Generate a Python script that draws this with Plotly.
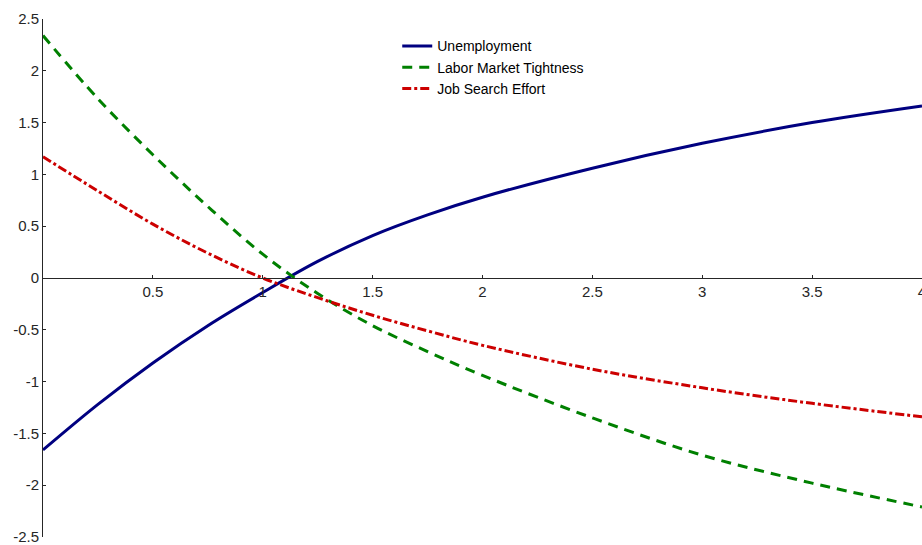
import plotly.graph_objects as go

x_vals = [0, 0.25, 0.5, 0.75, 1.0, 1.25, 1.5, 1.75, 2.0, 2.5, 3.0, 3.5, 4.0]
unemployment = [-1.66, -1.22, -0.82, -0.46, -0.14, 0.16, 0.41, 0.61, 0.78, 1.06, 1.30, 1.50, 1.66]
tightness = [2.34, 1.73, 1.19, 0.69, 0.23, -0.15, -0.46, -0.71, -0.94, -1.35, -1.71, -1.98, -2.21]
search_effort = [1.17, 0.84, 0.52, 0.24, 0.0, -0.19, -0.36, -0.51, -0.65, -0.88, -1.06, -1.21, -1.34]

x_ticks = [0.5, 1, 1.5, 2, 2.5, 3, 3.5, 4]
x_tick_labels = ["0.5", "1", "1.5", "2", "2.5", "3", "3.5", "4"]
y_ticks = [-2.5, -2, -1.5, -1, -0.5, 0, 0.5, 1, 1.5, 2, 2.5]
y_tick_labels = ["-2.5", "-2", "-1.5", "-1", "-0.5", "0", "0.5", "1", "1.5", "2", "2.5"]

fig = go.Figure()
fig.add_trace(go.Scatter(x=x_vals, y=unemployment, mode="lines", name="Unemployment",
                         line=dict(color="#000080", width=3, shape="spline", smoothing=1)))
fig.add_trace(go.Scatter(x=x_vals, y=tightness, mode="lines", name="Labor Market Tightness",
                         line=dict(color="#008000", width=3, dash="10px,7px", shape="spline", smoothing=1)))
fig.add_trace(go.Scatter(x=x_vals, y=search_effort, mode="lines", name="Job Search Effort",
                         line=dict(color="#cc0000", width=3, dash="9px,3px,3px,3px", shape="spline", smoothing=1)))

fig.update_layout(
    width=922, height=545,
    margin=dict(l=43, r=0, t=19, b=8, autoexpand=False),
    plot_bgcolor="white", paper_bgcolor="white",
    font=dict(family="Liberation Sans, Arial, sans-serif", size=15, color="#262626"),
    showlegend=True,
    legend=dict(x=0.403, y=0.978, xanchor="left", yanchor="top",
                bgcolor="rgba(0,0,0,0)", font=dict(size=14, color="#000000"),
                tracegroupgap=0),
    xaxis=dict(range=[0, 4], tickvals=x_ticks, ticktext=x_tick_labels,
               showgrid=False, zeroline=False, showline=True, linecolor="#262626", linewidth=1,
               anchor="free", position=0.5, ticks="inside", ticklen=3, tickcolor="#262626",
               automargin=False, ticklabeloverflow="allow"),
    yaxis=dict(range=[-2.5, 2.5], tickvals=y_ticks, ticktext=y_tick_labels,
               showgrid=False, zeroline=False, showline=True, linecolor="#262626", linewidth=1,
               ticks="inside", ticklen=3, tickcolor="#262626", automargin=False,
               ticklabeloverflow="allow"),
)

# remove the default page margin so the figure fills the window exactly
fig.write_html("out.html", config={"displayModeBar": False},
               post_script="document.body.style.margin='0';document.body.style.overflow='hidden';")
